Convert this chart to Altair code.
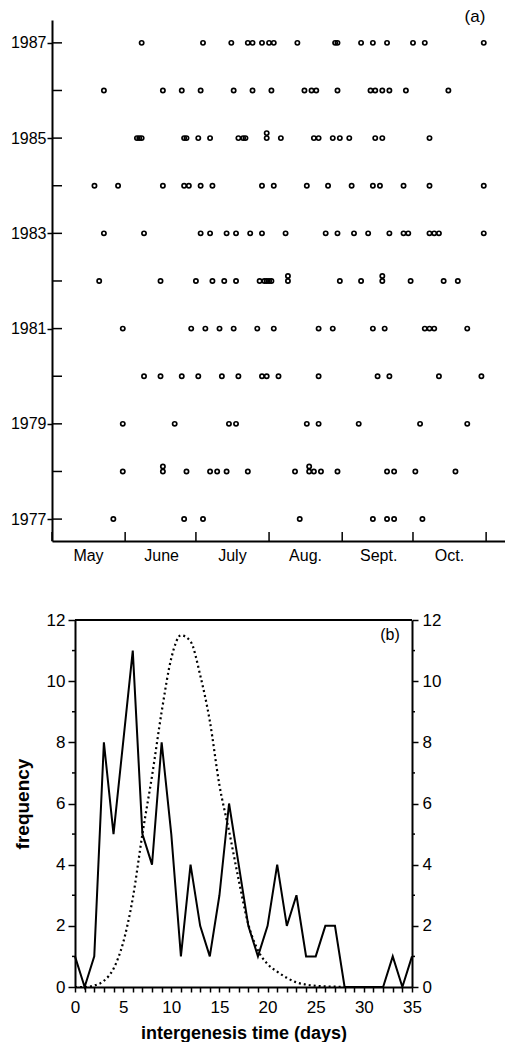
import json
import altair as alt
import pandas as pd

# ---------------- panel (a): genesis dates (month-day) per year ----------------
g1987 = ["06-08", "07-04", "07-16", "07-23", "07-25", "07-29", "08-01", "08-03", "08-13",
         "08-29", "08-30", "09-09", "09-14", "09-20", "10-01", "10-06", "10-31"]
g1986 = ["05-23", "06-17", "06-25", "07-03", "07-17", "07-25", "08-02", "08-16", "08-19",
         "08-21", "08-30", "09-13", "09-15", "09-18", "09-21", "09-28", "10-16"]
g1985 = ["06-06", "06-07", "06-08", "06-26", "06-27", "07-02", "07-07", "07-19", "07-21",
         "07-22", "07-31", "07-31", "08-06", "08-20", "08-22", "08-28", "08-31", "09-04",
         "09-15", "09-18", "10-08"]
g1984 = ["05-19", "05-29", "06-17", "06-26", "06-28", "07-03", "07-08", "07-29", "08-03",
         "08-17", "08-26", "09-05", "09-14", "09-17", "09-27", "10-08", "10-31"]
g1983 = ["05-23", "06-09", "07-03", "07-07", "07-14", "07-18", "07-24", "07-29", "08-08",
         "08-25", "08-30", "09-06", "09-12", "09-21", "09-27", "09-29", "10-08", "10-10",
         "10-12", "10-31"]
g1982 = ["05-21", "06-16", "07-01", "07-08", "07-13", "07-18", "07-28", "07-30", "07-31",
         "08-01", "08-02", "08-09", "08-09", "08-31", "09-09", "09-18", "09-18", "09-30",
         "10-14", "10-20"]
g1981 = ["05-31", "06-29", "07-05", "07-11", "07-17", "07-27", "08-03", "08-22", "08-28",
         "09-14", "09-19", "10-06", "10-08", "10-10", "10-24"]
g1980 = ["06-09", "06-16", "06-25", "07-02", "07-12", "07-19", "07-29", "07-31", "08-05",
         "08-22", "09-16", "09-21", "10-12", "10-30"]
g1979 = ["05-31", "06-22", "07-15", "07-18", "08-17", "08-22", "09-08", "10-04", "10-24"]
g1978 = ["05-31", "06-17", "06-17", "06-27", "07-07", "07-10", "07-14", "07-23", "08-12",
         "08-18", "08-18", "08-20", "08-23", "08-30", "09-20", "09-23", "10-02", "10-19"]
g1977 = ["05-27", "06-26", "07-04", "08-14", "09-14", "09-20", "09-23", "10-05"]

year_labels = [1977, 1979, 1981, 1983, 1985, 1987]
month_names = ["May", "June", "July", "Aug.", "Sept.", "Oct."]
month_firsts = ["05-01", "06-01", "07-01", "08-01", "09-01", "10-01", "11-01"]

# ---------------- panel (b): intergenesis time histogram ----------------
days = list(range(0, 36))
frequency = [1, 0, 1, 8, 5, 8, 11, 5, 4, 8, 5, 1, 4, 2, 1, 3, 6, 4, 2, 1,
             2, 4, 2, 3, 1, 1, 2, 2, 0, 0, 0, 0, 0, 1, 0, 1]
fit_days = list(range(0, 29))
fit_values = [0, 0, 0.05, 0.2, 0.6, 1.45, 2.9, 5.0, 6.9, 9.0, 10.75, 11.5, 11.3, 10.2,
              8.7, 6.6, 5.1, 3.5, 2.05, 1.2, 0.75, 0.5, 0.3, 0.15, 0.08, 0.04, 0.02,
              0.01, 0]
freq_major = [0, 2, 4, 6, 8, 10, 12]
freq_minor = [1, 3, 5, 7, 9, 11]

# ---------------- build tables ----------------
SEASON0 = pd.Timestamp("2001-05-01")


def offset(md):
    return (pd.Timestamp("2001-" + md) - SEASON0).days


by_year = {1977: g1977, 1978: g1978, 1979: g1979, 1980: g1980, 1981: g1981,
           1982: g1982, 1983: g1983, 1984: g1984, 1985: g1985, 1986: g1986,
           1987: g1987}
rows = []
for yr, lst in by_year.items():
    seen = {}
    for md in lst:
        d = offset(md)
        k = seen.get(d, 0)
        seen[d] = k + 1
        rows.append({"year": yr, "day": d, "stack": k})
df_a = pd.DataFrame(rows)
df_years = pd.DataFrame({"year": list(by_year.keys())})
month_starts = [offset(m) for m in month_firsts]
label_starts = month_starts[:-1]
df_months = pd.DataFrame({"day": month_starts})

df_freq = pd.DataFrame({"day": days, "freq": frequency})
df_fit = pd.DataFrame({"day": fit_days, "fit": fit_values})
df_minor = pd.DataFrame({"v": freq_minor})

sans = "Liberation Sans, Arial, Helvetica, sans-serif"

# ---------------- panel (a) ----------------
WA, HA = 453, 521
label_expr = f"{json.dumps(month_names)}[indexof({json.dumps(label_starts)}, datum.value)]"
yscale_a = alt.Scale(domain=[1976.54, 1987.48], nice=False, zero=False)

xa = alt.X("day:Q", scale=alt.Scale(domain=[0, 192], nice=False, zero=False),
           axis=alt.Axis(values=label_starts, labelExpr=label_expr, labelOffset=36,
                         ticks=False, tickSize=0, grid=False, title=None,
                         domainWidth=2, domainColor="black", labelFont=sans,
                         labelFontSize=16, labelPadding=6, labelOverlap=False,
                         labelFlush=False, labelBound=False, labelColor="black"))
ya_axis = alt.Axis(values=year_labels, format="d", tickSize=5, tickWidth=1.5,
                   tickColor="black", grid=False, title=None, domainWidth=2,
                   domainColor="black", labelFont=sans, labelFontSize=16,
                   labelPadding=1, labelColor="black", labelFlush=False)

# doubled dates are drawn one above the other (about one circle apart)
dots = alt.Chart(df_a).transform_calculate(
    ypos="datum.year + 0.105 * datum.stack"
).mark_point(
    shape="circle", filled=False, color="black", size=18, strokeWidth=1.7, opacity=1
).encode(x=xa, y=alt.Y("ypos:Q", scale=yscale_a, axis=ya_axis))

ytick_in = alt.Chart(df_years).mark_rule(color="black", strokeWidth=1.5).encode(
    y=alt.Y("year:Q", scale=yscale_a, axis=ya_axis), x=alt.value(0), x2=alt.value(10))
xtick_in = alt.Chart(df_months).mark_rule(color="black", strokeWidth=1.5).encode(
    x=xa, y=alt.value(HA), y2=alt.value(HA - 9))
label_a = alt.Chart(pd.DataFrame({"t": ["(a)"]})).mark_text(
    font=sans, fontSize=17, color="black", align="center", baseline="top"
).encode(text="t:N", x=alt.value(WA - 30), y=alt.value(-11))

panel_a = alt.layer(dots, ytick_in, xtick_in, label_a).properties(width=WA, height=HA)

# ---------------- panel (b) ----------------
WB, HB = 360, 367
X0 = 23  # left inset of panel (b) plot relative to panel (a)
xb = alt.X("day:Q", scale=alt.Scale(domain=[0, 35], range=[X0, WB], nice=False, zero=False),
           axis=alt.Axis(values=days, labelExpr="datum.value % 5 === 0 ? datum.label : ''",
                         tickSize=5, tickWidth=1.5, tickColor="black", domainWidth=2,
                         domainColor="black", labelFont=sans, labelFontSize=17,
                         labelPadding=7, labelOverlap=False, labelFlush=False,
                         labelColor="black", grid=False, title="intergenesis time (days)",
                         titleFont=sans, titleFontSize=18, titleFontWeight="bold",
                         titlePadding=9, titleColor="black"))
yscale_b = alt.Scale(domain=[0, 12], nice=False, zero=True)
y_left = alt.Y("freq:Q", scale=yscale_b,
               axis=alt.Axis(orient="left", offset=-X0, values=freq_major, tickSize=7,
                             tickWidth=1.5, tickColor="black", domainWidth=2,
                             domainColor="black", labelFont=sans, labelFontSize=17,
                             labelPadding=3, labelColor="black", grid=False,
                             title="frequency", titleFont=sans, titleFontSize=19,
                             titleFontWeight="bold", titlePadding=14, titleColor="black"))
y_right = alt.Y("fit:Q", scale=yscale_b,
                axis=alt.Axis(orient="right", values=freq_major, tickSize=6, tickWidth=1.5,
                              tickColor="black", domainWidth=2, domainColor="black",
                              labelFont=sans, labelFontSize=17, labelPadding=4,
                              labelColor="black", grid=False, title=None))

solid = alt.Chart(df_freq).mark_line(color="black", strokeWidth=2).encode(x=xb, y=y_left)
dotted = alt.Chart(df_fit).mark_line(color="black", strokeWidth=2.2, strokeDash=[2, 3],
                                     interpolate="monotone").encode(x=xb, y=y_right)
minor_l = alt.Chart(df_minor).mark_rule(color="black", strokeWidth=1.5).encode(
    y=alt.Y("v:Q", scale=yscale_b, axis=None), x=alt.value(X0 - 3), x2=alt.value(X0))
minor_r = alt.Chart(df_minor).mark_rule(color="black", strokeWidth=1.5).encode(
    y=alt.Y("v:Q", scale=yscale_b, axis=None), x=alt.value(WB), x2=alt.value(WB + 3))
top_border = alt.Chart(pd.DataFrame({"v": [12]})).mark_rule(color="black", strokeWidth=2).encode(
    y=alt.Y("v:Q", scale=yscale_b, axis=None), x=alt.value(X0), x2=alt.value(WB))
label_b = alt.Chart(pd.DataFrame({"t": ["(b)"]})).mark_text(
    font=sans, fontSize=16, color="black", align="center", baseline="middle"
).encode(text="t:N", x=alt.value(WB - 22), y=alt.value(15))

panel_b = alt.layer(solid, dotted, minor_l, minor_r, top_border, label_b).resolve_axis(
    y="independent").properties(width=WB, height=HB)

chart = alt.vconcat(panel_a, panel_b, spacing=48).properties(
    padding={"left": 2, "right": 0, "top": 0, "bottom": 0}, background="white"
).configure_view(stroke=None)

chart.save("out.html", embed_options={"renderer": "svg", "actions": False})
